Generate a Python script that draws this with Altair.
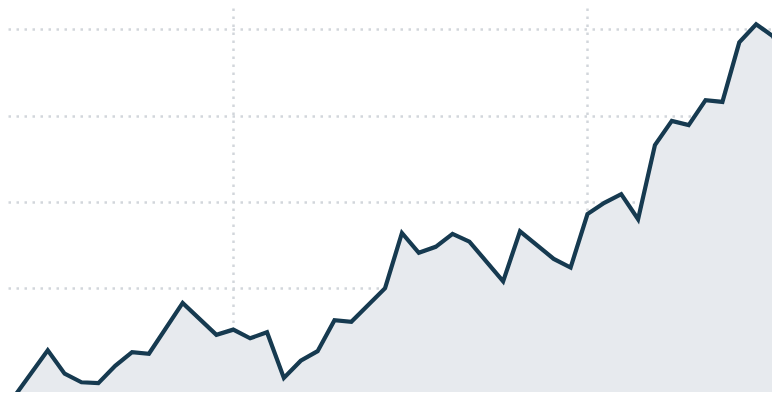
import altair as alt
import pandas as pd

# Data (index of period, value)
idx = [-1, 0, 2, 3, 4, 5, 6, 7, 8, 10, 12, 13, 14, 15, 16, 17, 18, 19, 20,
       22, 23, 24, 25, 26, 27, 29, 30, 32, 33, 34, 35, 36, 37, 38, 39, 40,
       41, 42, 43, 44, 45, 46]
vals = [7.0, 7.4, 12.8, 10.1, 9.1, 9.0, 11.0, 12.6, 12.4, 18.3, 14.6, 15.2,
        14.2, 14.9, 9.6, 11.6, 12.7, 16.3, 16.1, 20.0, 26.4, 24.1, 24.8, 26.3,
        25.4, 20.8, 26.6, 23.4, 22.4, 28.6, 29.9, 30.9, 28.0, 36.6, 39.4, 38.9,
        41.8, 41.6, 48.5, 50.6, 49.2, 44.6]
x_grid = [13, 34]
y_grid = [20, 30, 40, 50]

df = pd.DataFrame({"i": idx, "v": vals})

grid_color = "#d2d6db"

x_enc = alt.X(
    "i:Q",
    scale=alt.Scale(domain=[-0.356, 44.94], nice=False, zero=False),
    axis=alt.Axis(values=x_grid, labels=False, ticks=False, domain=False,
                  title=None, grid=True, gridColor=grid_color,
                  gridDash=[2.5, 5.5], gridWidth=2.5),
)
y_enc = alt.Y(
    "v:Q",
    scale=alt.Scale(domain=[7.97, 52.48], nice=False, zero=False),
    axis=alt.Axis(values=y_grid, labels=False, ticks=False, domain=False,
                  title=None, grid=True, gridColor=grid_color,
                  gridDash=[2.5, 5.5], gridWidth=2.5),
)

area = alt.Chart(df).mark_area(color="#e7eaee", clip=True).encode(x=x_enc, y=y_enc)
line = alt.Chart(df).mark_line(color="#163a50", strokeWidth=4.2, clip=True).encode(
    x=alt.X("i:Q"), y=alt.Y("v:Q")
)

chart = (
    alt.layer(area, line)
    .properties(width=764, height=384, padding=0,
                autosize=alt.AutoSizeParams(type="none"))
    .configure_view(stroke=None)
)

chart.save("out.html", embed_options={"renderer": "svg", "actions": False})
